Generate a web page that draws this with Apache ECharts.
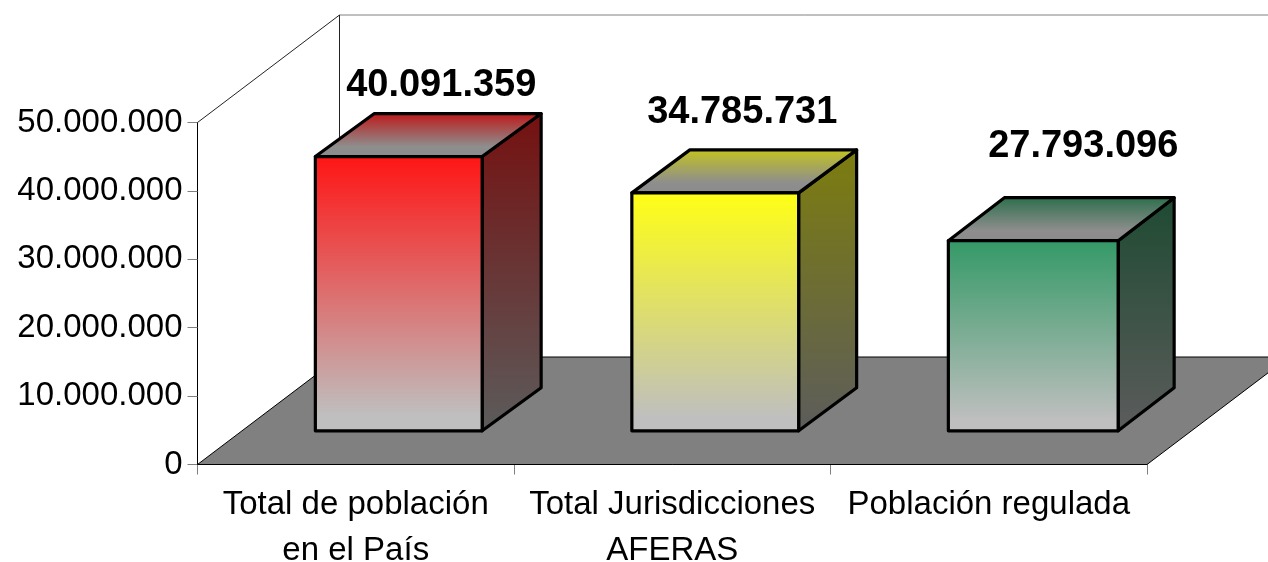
<!DOCTYPE html>
<html><head><meta charset="utf-8">
<style>html,body{margin:0;padding:0;background:#fff}#c{width:1268px;height:562px}</style>
<script src="https://cdn.jsdelivr.net/npm/echarts@6/dist/echarts.min.js"></script>
</head><body><div id="c"></div>
<script>
const categories = ['Total de población\nen el País', 'Total Jurisdicciones\nAFERAS', 'Población regulada'];
const values = [40091359, 34785731, 27793096];
const tickStep = 10000000;
const axisMax = 50000000;
const frontColors = ['#ff1414', '#ffff14', '#339966'];
const topColors = ['#c01414', '#c4c41c', '#2a6e4a'];
const sideColors = ['#751010', '#7d7d0e', '#1e4a32'];
const labelShift = [[13, -28], [-2, -37], [22, -51]];
const barWidthExtra = [0, 0, 3];
const barDepthExtra = [1, 0, -2];

const FONT = 'Liberation Sans, Arial, sans-serif';
const WALL_DX = 142, WALL_DY = 107.5;      // full depth of the floor
const BAR_LIFT_X = 43, BAR_LIFT_Y = 33.7;  // where a bar's front stands on the floor
const BAR_DX = 58, BAR_DY = 43;            // depth of a bar
const BAR_RATIO = 0.527;                   // bar width / category band

const fmt = v => String(v).replace(/\B(?=(\d{3})+(?!\d))/g, '.');

function renderRoom(params, api) {
  const c = params.coordSys;
  const x0 = c.x, x1 = c.x + c.width, yB = c.y + c.height, yT = c.y;
  const line = (a, b, col) => ({ type: 'line', shape: { x1: a[0], y1: a[1], x2: b[0], y2: b[1] },
    style: { stroke: col, lineWidth: 1 } });
  return { type: 'group', children: [
    line([x0, yT], [x0 + WALL_DX, yT - WALL_DY], '#222'),
    line([x0 + WALL_DX, yT - WALL_DY], [x1 + WALL_DX, yT - WALL_DY], '#808080'),
    line([x0 + WALL_DX, yT - WALL_DY], [x0 + WALL_DX, yB - WALL_DY], '#222'),
    { type: 'polygon', shape: { points: [[x0, yB], [x1, yB], [x1 + WALL_DX, yB - WALL_DY], [x0 + WALL_DX, yB - WALL_DY]] },
      style: { fill: '#808080', stroke: '#000', lineWidth: 1 } }
  ]};
}

function renderBar(params, api) {
  const i = api.value(0);
  const base = api.coord([i, 0]);
  const top = api.coord([i, api.value(1)]);
  const band = api.size([1, 0])[0] * BAR_RATIO;
  const w = band + barWidthExtra[i];
  const dx = BAR_DX + barDepthExtra[i];
  const xL = base[0] - band / 2 + BAR_LIFT_X, xR = xL + w;
  const yB = base[1] - BAR_LIFT_Y, yT = top[1] - BAR_LIFT_Y;
  const grad = (stops) => ({ type: 'linear', x: 0, y: 0, x2: 0, y2: 1,
    colorStops: stops.map((s) => ({ offset: s[0], color: s[1] })) });
  const edge = { stroke: '#000', lineWidth: 3.2, lineJoin: 'round' };
  const cx = (xL + xR + dx) / 2 + labelShift[i][0];
  const cy = yT - BAR_DY + labelShift[i][1];
  return { type: 'group', children: [
    { type: 'polygon', shape: { points: [[xR, yT], [xR + dx, yT - BAR_DY], [xR + dx, yB - BAR_DY], [xR, yB]] },
      style: Object.assign({ fill: grad([[0, sideColors[i]], [1, '#5c5c5c']]) }, edge) },
    { type: 'polygon', shape: { points: [[xL, yT], [xR, yT], [xR + dx, yT - BAR_DY], [xL + dx, yT - BAR_DY]] },
      style: Object.assign({ fill: grad([[0, topColors[i]], [0.75, '#8e8e8e'], [1, '#8a8a8a']]) }, edge) },
    { type: 'rect', shape: { x: xL, y: yT, width: w, height: yB - yT },
      style: Object.assign({ fill: grad([[0, frontColors[i]], [0.94, '#bfbfbf'], [1, '#bfbfbf']]) }, edge) },
    { type: 'text', style: { x: cx, y: cy, text: fmt(api.value(1)), fill: '#000',
      font: 'bold 38px ' + FONT, textAlign: 'center', textVerticalAlign: 'middle' } }
  ]};
}

const chart = echarts.init(document.getElementById('c'), null, { renderer: 'canvas' });
chart.setOption({
  animation: false,
  backgroundColor: '#fff',
  grid: { left: 197.5, top: 122.5, width: 949.5, height: 342, containLabel: false, outerBoundsMode: 'none' },
  xAxis: { type: 'category', data: categories,
    axisLine: { show: true, lineStyle: { color: '#000', width: 1 } },
    axisTick: { show: true, length: 10, lineStyle: { color: '#808080' } },
    axisLabel: { color: '#000', fontFamily: FONT, fontSize: 33, lineHeight: 46, margin: 17, interval: 0 } },
  yAxis: { type: 'value', min: 0, max: axisMax, interval: tickStep,
    axisLine: { show: true, lineStyle: { color: '#000', width: 1 } },
    axisTick: { show: true, length: 10, lineStyle: { color: '#808080' } },
    splitLine: { show: false },
    axisLabel: { color: '#000', fontFamily: FONT, fontSize: 33, margin: 15, padding: [2, 0, 0, 0], formatter: fmt } },
  series: [
    { type: 'custom', z: 1, silent: true, coordinateSystem: 'cartesian2d', renderItem: renderRoom,
      data: [[0, 0]], encode: { x: 0, y: 1 } },
    { type: 'custom', z: 2, silent: true, coordinateSystem: 'cartesian2d', renderItem: renderBar,
      data: values.map((v, i) => [i, v]), encode: { x: 0, y: 1 } }
  ]
});
</script></body></html>
